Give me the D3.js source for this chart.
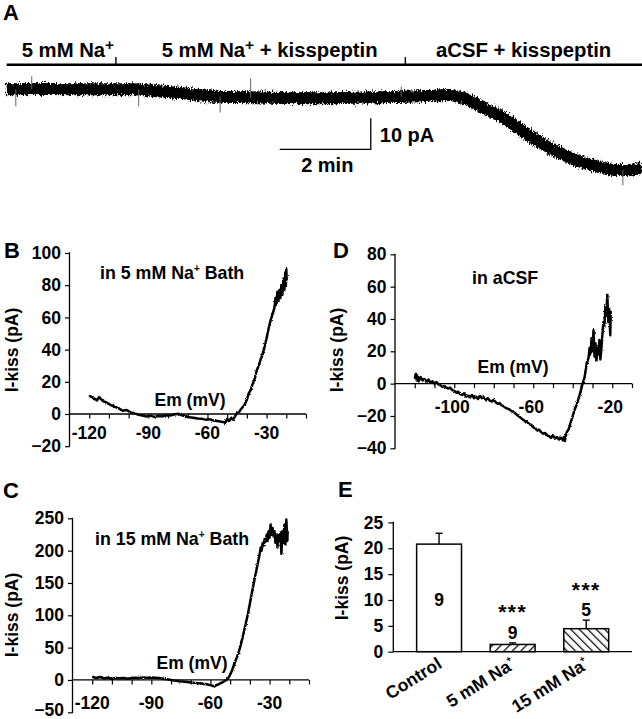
<!DOCTYPE html>
<html><head><meta charset="utf-8">
<script src="https://cdn.jsdelivr.net/npm/d3@7/dist/d3.min.js"></script>
<style>
html,body{margin:0;padding:0;background:#fff;}
svg{display:block;font-family:"Liberation Sans",Arial,Helvetica,sans-serif;font-weight:bold;}
</style></head>
<body>
<svg id="fig" width="642" height="719"></svg>
<script>
// ---------------- DATA ----------------
// Panel A: holding current trace (time in min, current in pA relative to start)
const traceTime = [0, 1.0, 2.0, 2.77, 3.15, 3.5, 3.87, 4.25, 4.62, 5.0, 5.35, 6.1, 6.9, 7.63, 8.2, 8.73, 9.2, 9.7, 10.05, 10.42, 10.8, 11.15, 11.52, 11.9, 12.25, 12.63, 13.0, 13.35, 13.72, 13.96];
const traceCurrent = [0, 0.1, 0, 0, -0.45, -0.8, -1.3, -1.9, -2.4, -2.5, -2.6, -2.8, -2.9, -2.7, -2.6, -2.4, -2.2, -1.85, -2.9, -5.6, -8.3, -11.5, -15.3, -18.5, -21.2, -23.4, -25, -26, -26, -25];
const spikeTime = [0.2, 0.55, 2.9, 4.69, 5.36, 8.67, 13.54];
const spikeCurrent = [-5.5, 4.2, -5.5, -7.5, 3.6, 0.9, -31];
const solutionLabels = ["5 mM Na", "5 mM Na", "aCSF + kisspeptin"];
const solutionChangeTimes = [2.4, 8.76];
const scaleBarMin = 2, scaleBarPA = 10;

// Panel B: I-V in 5 mM Na+ bath (mV, pA)
const bMV = [-120,-118,-116,-115,-113,-111,-109,-107,-105,-103,-101,-99,-97,-95,-93,-91,-89,-87,-85,-83,-81,-79,-77,-75,-73,-71,-69,-67,-65,-63,-61,-59,-57,-55,-53,-51,-50,-49,-48,-47,-46,-45,-44,-43,-42,-41,-40,-39,-38,-37,-36,-35,-34,-33,-32,-31,-30,-29,-28,-27,-26,-25.5,-25,-24.5,-24,-23.5,-23,-22.5,-22,-21.5,-21,-20.5,-20.2,-20,-19.8];
const bPA = [11.5,10,8.5,10.5,8,7,5.5,4.5,3.5,2,2.5,1,0.5,-0.5,-1,-1.5,-1,-1.8,-1.2,-1.5,-0.8,-1,-0.3,0.2,-0.8,-1.5,-2,-2.3,-2.8,-3,-3.5,-3.2,-4,-4.3,-4.8,-5.5,-3,-4.5,-2.5,-3.5,-1.5,0.5,1,3,4.5,6,9,13,15,19,22,27,30,34,37,42,47,53,58,62,66,72,68,76,70,77,72,80,74,84,77,88,80,90,83];

// Panel D: I-V in aCSF
const dMV = [-120,-119.5,-119,-118.5,-118,-117,-116,-115,-114,-113,-112,-111,-110,-109,-108,-107,-106,-105,-104,-103,-102,-101,-100,-99,-98,-97,-96,-95,-94,-93,-92,-91,-90,-89,-88,-87,-86,-85,-84,-83,-82,-81,-80,-79,-78,-77,-76,-75,-74,-73,-72,-71,-70,-69,-68,-67,-66,-65,-64,-63,-62,-61,-60,-59,-58,-57,-56,-55,-54,-53,-52,-51,-50,-49,-48,-47,-46,-45,-44.5,-44,-43.5,-43,-42,-41,-40,-39,-38,-37,-36,-35.5,-35,-34.5,-34,-33.5,-33,-32.5,-32,-31.5,-31,-30.5,-30,-29.5,-29,-28.5,-28,-27.5,-27,-26.5,-26,-25.5,-25,-24.5,-24,-23.5,-23,-22.5,-22,-21.5,-21,-20.8];
const dPA = [3,6,2,5,1.5,4,2,3,1,2.5,0.5,1.5,0,1,-0.5,-1,-2,-1.5,-2.5,-3,-2.5,-4,-4.5,-5.5,-5,-6.5,-7,-6,-8,-7.5,-8.5,-7,-9,-8,-9.5,-7.5,-9,-8.5,-10,-9,-10.5,-11,-10,-11.5,-12.5,-12,-13.5,-14,-15,-15.5,-16,-17,-17.5,-18.5,-19.5,-20.5,-21.5,-22.5,-23,-24,-25,-25.5,-27,-27.5,-29,-28.5,-30,-31,-30.5,-32,-32.5,-33.5,-32,-34,-33,-34.5,-33.5,-35,-33,-35.5,-32,-30,-28,-24,-20,-16,-13,-9,-5,-2,0,2,4,8,12,14,16,22,18,28,20,33,17,25,14,22,18,27,15,22,30,38,35,48,42,55,38,46,30,45];

// Panel C: I-V in 15 mM Na+ bath
const cMV = [-120,-118,-116,-114,-112,-110,-108,-106,-104,-102,-100,-98,-96,-94,-92,-90,-88,-86,-84,-82,-80,-78,-76,-74,-72,-70,-68,-66,-64,-62,-60,-59,-58,-57,-56,-55,-54,-53,-52,-51,-50,-49,-48,-47,-46,-45,-44,-43,-42,-41,-40,-39,-38,-37,-36,-35,-34.5,-34,-33.5,-33,-32.5,-32,-31.5,-31,-30.5,-30,-29.5,-29,-28.5,-28,-27.5,-27,-26.5,-26,-25.5,-25,-24.5,-24,-23.5,-23,-22.5,-22,-21.5,-21,-20.8];
const cPA = [5,3,4.5,2.5,3.5,2,3,2.5,3,2,3,3.5,3,4,3.5,4,3.5,3,2,1,0,-1,-2,-2.5,-3,-4,-4.5,-5,-6,-6.5,-8,-9,-10,-8,-7,-5,-4,-2,0,3,8,15,24,32,40,50,62,75,88,102,118,135,150,165,180,195,205,200,212,208,218,214,225,215,230,220,240,225,235,222,230,212,225,205,225,215,228,195,230,212,240,210,248,215,230];

// Panel E: bar chart
const eCategories = ["Control", "5 mM Na", "15 mM Na"];
const eSuper = ["", "+", "+"];
const eMeans = [20.8, 1.4, 4.45];
const eSEM = [2.1, 0.3, 1.65];
const eN = [9, 9, 5];
const eSig = ["", "***", "***"];

// ---------------- DRAWING ----------------
const svg = d3.select("#fig");
const FONT = '"Liberation Sans",Arial,Helvetica,sans-serif';
const defs = svg.append("defs");

// rendering filters giving the recorded traces their ragged look
function roughFilter(id, freq, scale, seed) {
  const f = defs.append("filter").attr("id", id).attr("filterUnits", "userSpaceOnUse")
    .attr("x", 0).attr("y", 0).attr("width", 642).attr("height", 719)
    .attr("color-interpolation-filters", "sRGB");
  f.append("feTurbulence").attr("type", "fractalNoise").attr("baseFrequency", freq)
    .attr("numOctaves", 2).attr("seed", seed).attr("result", "t");
  f.append("feDisplacementMap").attr("in", "SourceGraphic").attr("in2", "t")
    .attr("scale", scale).attr("xChannelSelector", "R").attr("yChannelSelector", "G");
}
roughFilter("roughA", "1.2 0.35", 7.5, 4);
roughFilter("roughIV", "0.9 0.9", 2.4, 7);

function panelLetter(t, x, y) {
  svg.append("text").attr("x", x).attr("y", y).attr("font-size", 22).text(t);
}

// ---- Panel A ----
panelLetter("A", 3, 20);
const ax = d3.scaleLinear().domain([0, 13.96]).range([6.7, 642]);
const ay = d3.scaleLinear().domain([0, -26]).range([89.3, 89.3 + 26 * 3.1]);
const gA = svg.append("g");
gA.append("line").attr("x1", 6.7).attr("x2", 642).attr("y1", 64.7).attr("y2", 64.7)
  .attr("stroke", "#000").attr("stroke-width", 2.6);
solutionChangeTimes.forEach(t => {
  gA.append("line").attr("x1", ax(t)).attr("x2", ax(t)).attr("y1", 57).attr("y2", 64.7)
    .attr("stroke", "#000").attr("stroke-width", 1.4);
});
const lblA = gA.append("g").attr("font-size", 20.3);
let t1 = lblA.append("text").attr("x", 21.7).attr("y", 57.3);
t1.append("tspan").text(solutionLabels[0]);
t1.append("tspan").attr("dy", -7).attr("font-size", 15.5).text("+");
let t2 = lblA.append("text").attr("x", 161.7).attr("y", 57.3);
t2.append("tspan").text(solutionLabels[1]);
t2.append("tspan").attr("dy", -7).attr("font-size", 15.5).text("+");
t2.append("tspan").attr("dy", 7).text(" + kisspeptin");
lblA.append("text").attr("x", 436).attr("y", 57.3).text(solutionLabels[2]);

const traceData = traceTime.map((t, i) => [t, traceCurrent[i]]);
const traceLine = d3.line().x(d => ax(d[0])).y(d => ay(d[1])).curve(d3.curveMonotoneX);
const gTrace = gA.append("g").attr("filter", "url(#roughA)");
gTrace.append("path").attr("d", traceLine(traceData)).attr("fill", "none")
  .attr("stroke", "#000").attr("stroke-width", 12);
spikeTime.forEach((t, i) => {
  const base = d3.least(traceData, d => Math.abs(d[0] - t));
  gA.append("line").attr("x1", ax(t)).attr("x2", ax(t))
    .attr("y1", ay(base[1])).attr("y2", ay(spikeCurrent[i]))
    .attr("stroke", "#666").attr("stroke-width", 1);
});
const sbT = 8, sbI = -19.35;
gA.append("path")
  .attr("d", `M${ax(sbT - scaleBarMin)},${ay(sbI)}H${ax(sbT)}V${ay(sbI + scaleBarPA)}`)
  .attr("fill", "none").attr("stroke", "#000").attr("stroke-width", 1.3);
gA.append("text").attr("font-size", 20).attr("x", ax(sbT) + 9).attr("y", 141.7).text(scaleBarPA + " pA");
gA.append("text").attr("font-size", 20).attr("text-anchor", "middle")
  .attr("x", ax(sbT - scaleBarMin / 2) + 2).attr("y", 171.5).text(scaleBarMin + " min");

// ---- IV panels ----
function ivPanel(opt) {
  const g = svg.append("g");
  const x = d3.scaleLinear().domain([-130, -10]).range(opt.xr);
  const y = d3.scaleLinear().domain(opt.yd).range(opt.yr);
  const yAxis = d3.axisLeft(y).tickValues(opt.yTicks).tickSize(4.5).tickPadding(4).tickFormat(d3.format("d"));
  const gy = g.append("g").attr("transform", `translate(${opt.xr[0]},0)`).call(yAxis);
  gy.select(".domain").attr("stroke-width", 1.3).attr("d", `M-0.5,${opt.yr[0]}H0V${opt.yr[1]}H-0.5`);
  gy.selectAll(".tick line").attr("stroke-width", 1.2);
  gy.selectAll("text").attr("font-size", opt.tickFont).attr("font-family", FONT).attr("font-weight", "bold").attr("fill", "#000");
  if (opt.lowLabelLift) {
    gy.selectAll(".tick").filter(d => d === opt.yd[0]).select("text").attr("dy", "0.2em");
  }
  const xAxis = d3.axisBottom(x).tickValues(d3.range(-120, -9, 10)).tickSize(4.5).tickFormat("");
  const gx = g.append("g").attr("transform", `translate(0,${y(0)})`).call(xAxis);
  gx.select(".domain").attr("stroke-width", 1.3).attr("d", `M${opt.xr[0]},0H${opt.xr[1]}`);
  gx.selectAll(".tick line").attr("stroke-width", 1.2);
  opt.xLabels.forEach(v => {
    g.append("text").attr("x", x(v) + (opt.xLabelShift || 0)).attr("y", opt.xLabelY)
      .attr("text-anchor", "middle").attr("font-size", opt.tickFont).text(v);
  });
  g.append("text").attr("transform", `translate(${opt.titleX},${opt.titleY}) rotate(-90)`)
    .attr("text-anchor", "middle").attr("font-size", 17.5).text("I-kiss (pA)");
  g.append("text").attr("x", opt.emX).attr("y", opt.emY).attr("text-anchor", "middle")
    .attr("font-size", 17.5).text("Em (mV)");
  const ct = g.append("text").attr("x", opt.condX).attr("y", opt.condY).attr("font-size", 17.8);
  opt.cond.forEach(p => {
    const ts = ct.append("tspan").text(p.t);
    if (p.sup) ts.attr("font-size", 10).attr("dy", -7);
    if (p.after) ts.attr("dy", 7);
  });
  const data = opt.mv.map((v, i) => [v, opt.pa[i]]);
  g.append("path").attr("d", d3.line().x(d => x(d[0])).y(d => y(d[1]))(data))
    .attr("fill", "none").attr("stroke", "#000").attr("stroke-width", 2.5)
    .attr("stroke-linejoin", "round").attr("filter", "url(#roughIV)");
}

panelLetter("B", 4, 258);
ivPanel({
  xr: [69.5, 306], yd: [-20, 100], yr: [446.2, 253], yTicks: d3.range(-20, 101, 20),
  xLabels: [-120, -90, -60, -30], xLabelY: 438.5, xLabelShift: 0, tickFont: 17.5,
  titleX: 18, titleY: 350, emX: 190, emY: 406, condX: 100, condY: 279,
  cond: [{t: "in 5 mM Na"}, {t: "+", sup: true}, {t: " Bath", after: true}],
  mv: bMV, pa: bPA
});

panelLetter("D", 333, 258);
ivPanel({
  xr: [395, 632], yd: [-40, 80], yr: [448.3, 254.3], yTicks: d3.range(-40, 81, 20),
  xLabels: [-100, -60, -20], xLabelY: 413, xLabelShift: -2, tickFont: 17.5,
  titleX: 343, titleY: 350, emX: 513, emY: 372.5, condX: 472, condY: 283.5,
  cond: [{t: "in aCSF"}],
  mv: dMV, pa: dPA
});

panelLetter("C", 3, 498);
ivPanel({
  xr: [72.5, 309], yd: [-50, 250], yr: [712.3, 518.3], yTicks: d3.range(-50, 251, 50),
  xLabels: [-120, -90, -60, -30], xLabelY: 709, xLabelShift: 0, tickFont: 17.5,
  titleX: 18, titleY: 615, emX: 192, emY: 668.5, condX: 95, condY: 545,
  cond: [{t: "in 15 mM Na"}, {t: "+", sup: true}, {t: " Bath", after: true}],
  mv: cMV, pa: cPA, lowLabelLift: true
});

// ---- Panel E ----
panelLetter("E", 338, 497);
defs.append("pattern").attr("id", "hatchF").attr("patternUnits", "userSpaceOnUse")
  .attr("width", 6).attr("height", 6).attr("patternTransform", "rotate(45)")
  .append("line").attr("x1", 0).attr("y1", 0).attr("x2", 0).attr("y2", 6)
  .attr("stroke", "#000").attr("stroke-width", 2.4);
defs.append("pattern").attr("id", "hatchB").attr("patternUnits", "userSpaceOnUse")
  .attr("width", 6).attr("height", 6).attr("patternTransform", "rotate(-45)")
  .append("line").attr("x1", 0).attr("y1", 0).attr("x2", 0).attr("y2", 6)
  .attr("stroke", "#000").attr("stroke-width", 2.4);
const fills = ["#fff", "url(#hatchF)", "url(#hatchB)"];

const ex = d3.scaleBand().domain(eCategories).range([393.3, 632]).paddingInner(0.39).paddingOuter(0.317);
const ey = d3.scaleLinear().domain([0, 25]).range([651.7, 522.4]);
const gE = svg.append("g");
const eyAxis = d3.axisLeft(ey).tickValues(d3.range(0, 26, 5)).tickSize(5).tickPadding(5);
const gey = gE.append("g").attr("transform", "translate(393.3,0)").call(eyAxis);
gey.select(".domain").attr("stroke-width", 1.3).attr("d", `M-0.5,${ey(0)}H0V${ey(25)}H-0.5`);
gey.selectAll(".tick line").attr("stroke-width", 1.2);
gey.selectAll("text").attr("font-size", 17.5).attr("font-family", FONT).attr("font-weight", "bold").attr("fill", "#000");
gE.append("line").attr("x1", 393.3).attr("x2", 632).attr("y1", ey(0)).attr("y2", ey(0))
  .attr("stroke", "#000").attr("stroke-width", 1.3);

eCategories.forEach((c, i) => {
  const x0 = ex(c), w = ex.bandwidth(), cx = x0 + w / 2;
  gE.append("line").attr("x1", cx).attr("x2", cx).attr("y1", ey(eMeans[i])).attr("y2", ey(eMeans[i] + eSEM[i]))
    .attr("stroke", "#000").attr("stroke-width", 1.4);
  gE.append("line").attr("x1", cx - 3.5).attr("x2", cx + 3.5).attr("y1", ey(eMeans[i] + eSEM[i])).attr("y2", ey(eMeans[i] + eSEM[i]))
    .attr("stroke", "#000").attr("stroke-width", 1.4);
  gE.append("rect").attr("x", x0).attr("y", ey(eMeans[i])).attr("width", w).attr("height", ey(0) - ey(eMeans[i]))
    .attr("fill", fills[i]).attr("stroke", "#000").attr("stroke-width", 1.5);
  const lt = gE.append("text").attr("font-size", 17.5).attr("text-anchor", "end")
    .attr("transform", `translate(${cx + 4},${667}) rotate(-32)`);
  lt.append("tspan").text(c);
  if (eSuper[i]) lt.append("tspan").attr("font-size", 9).attr("dy", -8).text(eSuper[i]);
});
const nY = [606, 638.5, 616];
const sigY = [0, 619, 597];
eCategories.forEach((c, i) => {
  const cx = ex(c) + ex.bandwidth() / 2;
  gE.append("text").attr("x", cx).attr("y", nY[i]).attr("text-anchor", "middle").attr("font-size", 17.5).text(eN[i]);
  if (eSig[i]) gE.append("text").attr("x", cx).attr("y", sigY[i]).attr("text-anchor", "middle")
    .attr("font-size", 21).attr("letter-spacing", 1.5).text(eSig[i]);
});
gE.append("text").attr("transform", "translate(348,578) rotate(-90)").attr("text-anchor", "middle")
  .attr("font-size", 17.5).text("I-kiss (pA)");
</script>
</body></html>
